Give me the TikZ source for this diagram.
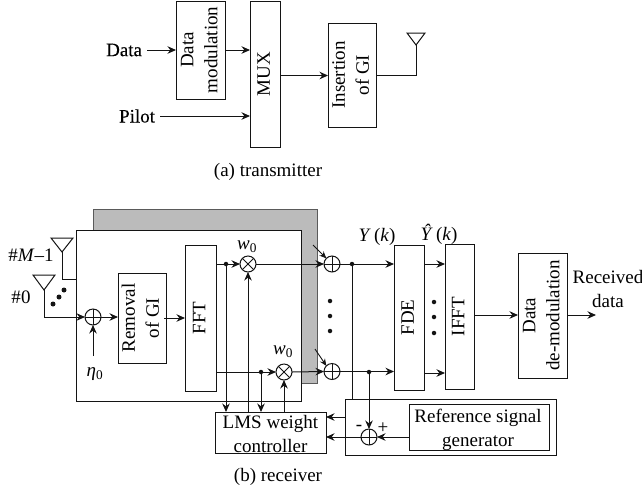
\documentclass[tikz,border=0pt]{standalone}
\usepackage{fontspec}
\usepackage{graphicx}
\setmainfont{Liberation Serif}
\newfontfamily\heavyserif[FakeBold=0.25]{Liberation Serif}
\usetikzlibrary{arrows.meta,calc}
\definecolor{panelgray}{RGB}{187,187,187}
\definecolor{ink}{RGB}{20,20,20}
\newcommand{\vtext}[1]{\rotatebox{90}{\begin{tabular}{@{}c@{}}#1\end{tabular}}}
\newcommand{\sbx}[5]{\node[box,minimum width=#4-#2,minimum height=#5-#3] (#1) at ({(#2+#4)/2},{(#3+#5)/2})}
\tikzset{
  box/.style={draw=ink,line width=1pt,fill=white,inner sep=0pt,outer sep=0pt,align=center,font=\fontsize{19}{24}\selectfont},
  txt/.style={inner sep=0pt,outer sep=0pt,align=center,font=\fontsize{19}{24}\selectfont},
  arr/.style={-{Stealth[length=8.5pt,width=7.5pt]},line width=1pt,draw=ink},
  arrs/.style={-{Stealth[length=7pt,width=6pt]},line width=0.9pt,draw=ink},
  wire/.style={line width=1pt,draw=ink},
  adder/.style={circle,draw=ink,line width=1pt,minimum size=16pt,inner sep=0pt,outer sep=0pt,path picture={
    \draw[line width=0.9pt,draw=ink] (path picture bounding box.north)--(path picture bounding box.south)
      (path picture bounding box.west)--(path picture bounding box.east);}},
  mult/.style={circle,draw=ink,line width=1pt,minimum size=16pt,inner sep=0pt,outer sep=0pt,path picture={
    \draw[line width=0.9pt,draw=ink] (path picture bounding box.north west)--(path picture bounding box.south east)
      (path picture bounding box.south west)--(path picture bounding box.north east);}},
  dotm/.style={circle,fill=ink,minimum size=4.5pt,inner sep=0pt,outer sep=0pt},
  bigdot/.style={circle,fill=ink,minimum size=5pt,inner sep=0pt,outer sep=0pt},
  ant/.style={draw=ink,line width=1pt,line join=miter},
}
\begin{document}
\begin{tikzpicture}[x=1pt,y=-1pt]
\useasboundingbox (0,0) rectangle (642,491);
% transmitter
\sbx{mod}{176}{1}{225}{99}{\vtext{Data\\modulation}};
\sbx{mux}{250}{1}{280}{147}{\vtext{MUX}};
\sbx{ins}{328}{23}{376}{127}{\vtext{Insertion\\of GI}};
\node[txt,anchor=east] (data) at (142,50) {\heavyserif Data};
\node[txt,anchor=east] (pilot) at (155,116) {\heavyserif Pilot};
\coordinate (txa) at (416,45);
\draw[ant] (407,33) -- (425,33) -- (txa) -- cycle;
\draw[arr] (data.east)++(5,0) -- (mod.west |- data);
\draw[arr] (mod.east |- data) -- (mux.west |- data);
\draw[arr] (pilot.east)++(5,0) -- (mux.west |- pilot);
\coordinate (muxo) at (281,75.5);
\draw[arr] (muxo) -- (ins.west |- muxo);
\draw[wire] (ins.east |- muxo) -| (txa);
\node[txt] (capa) at (268,172) {(a) transmitter};
% receiver panels
\fill[panelgray,draw=ink!70,line width=0.6pt] (93,209) rectangle (317,383);
\sbx{front}{76}{230}{301}{401}{};
\sbx{rem}{120}{273}{164}{363}{\vtext{Removal\\of GI}};
\sbx{fft}{185}{245}{216}{391}{\vtext{FFT}};
\sbx{lms}{215}{412}{326}{453}{};
\node[txt] (lmst) at (270.5,433.5) {LMS weight\\controller};
\sbx{fde}{394}{245}{424}{390}{\vtext{FDE}};
\sbx{ifft}{445}{244}{474}{389}{\vtext{IFFT}};
\sbx{dem}{518}{253}{567}{378}{\vtext{Data\\de-modulation}};
\sbx{refo}{345}{399}{556}{455}{};
\sbx{ref}{409}{404}{549}{450}{};
\node[txt] (reft) at (478,429.5) {Reference signal\\generator};
% antennas
\coordinate (am) at (62,252);
\coordinate (a0) at (44,290);
\draw[ant] (51,238) -- (73,238) -- (am) -- cycle;
\draw[ant] (33,275) -- (55,275) -- (a0) -- cycle;
\node[txt] (lm) at (31,255) {\#\textit{M}–1};
\node[txt] (l0) at (21,297) {\#0};
\node[bigdot] (d1) at (53,304) {};
\node[bigdot] (d2) at (59,297) {};
\node[bigdot] (d3) at (64,290) {};
\draw[wire] (am) |- (front.west |- 0,279);
% adders etc
\node[adder,fill=white] (s0) at (93,317) {};
\node[txt] (eta) at (95,374) {\textit{η}\textsubscript{0}};
\coordinate (etaT) at (93,356);
\draw[arr] (a0) |- (s0.west);
\draw[arr] (etaT) -- (s0.south);
\draw[arr] (s0.east) -- (rem.west |- s0);
\coordinate (rf) at (164,318);
\draw[arr] (rf) -- (fft.west |- rf);
\node[mult,fill=white] (m1) at (248,264) {};
\node[mult,fill=white] (m2) at (284,372) {};
\node[txt] (w1) at (247,247) {\textit{w}\textsubscript{0}};
\node[txt] (w2) at (283,352) {\textit{w}\textsubscript{0}};
\node[adder,fill=white] (c1) at (332,264) {};
\node[adder,fill=white] (c2) at (332,371.5) {};
\node[dotm] (j1) at (226,264) {};
\node[dotm] (j2) at (261,372) {};
\node[dotm] (j3) at (352,264) {};
\node[dotm] (j4) at (369,372) {};
\draw[arr] (fft.east |- m1) -- (m1.west);
\draw[arr] (fft.east |- m2) -- (m2.west);
\draw[arr] (m1.east) -- (c1.west);
\draw[arr] (m2.east) -- (c2.west);
\draw[arr] (c1.east) -- (fde.west |- c1);
\draw[arr] (c2.east) -- (fde.west |- c2);
\draw[arr] (j1) -- (j1 |- lms.north);
\draw[arr] (j2) -- (j2 |- lms.north);
\draw[arr] (m1 |- lms.north) -- (m1.south);
\draw[arr] (m2 |- lms.north) -- (m2.south);
\coordinate (t1) at (313,245);
\coordinate (t2) at (315,349);
\draw[arrs] (t1) -- (c1.north west);
\draw[arrs] (t2) -- (c2.north west);
\node[bigdot,minimum size=4.5pt] (v1) at (330,301) {};
\node[bigdot,minimum size=4.5pt] (v2) at (330,316) {};
\node[bigdot,minimum size=4.5pt] (v3) at (330,331) {};
\node[bigdot,minimum size=4.5pt] (v4) at (434,302) {};
\node[bigdot,minimum size=4.5pt] (v5) at (434,317) {};
\node[bigdot,minimum size=4.5pt] (v6) at (434,333) {};
\node[txt] (yk) at (377,237) {\textit{Y}\,(\textit{k})};
\node[txt] (yh) at (439,234) {\textit{Ŷ}\,(\textit{k})};
\draw[arr] (fde.east |- m1) -- (ifft.west |- m1);
\draw[arr] (fde.east |- 0,373) -- (ifft.west |- 0,373);
\coordinate (io) at (475,315);
\draw[arr] (io) -- (dem.west |- io);
\coordinate (oo) at (596,315);
\draw[arr] (dem.east |- io) -- (oo);
\node[txt] (rec) at (608,288.5) {Received\\data};
\node[txt] (capb) at (278,477) {(b) receiver};
% reference part
\node[adder,fill=white] (s3) at (369,437) {};
\draw[wire] (j3) -- (j3 |- refo.north);
\draw[arr] (j4) -- (s3.north);
\draw[arr] (refo.west |- 0,417) -- (lms.east |- 0,417);
\draw[arr] (s3.west) -- (lms.east |- s3);
\draw[arr] (ref.west |- s3) -- (s3.east);
\node[txt] (mn) at (359,428) {-};
\node[txt] (pl) at (383,428) {+};
\end{tikzpicture}
\end{document}
